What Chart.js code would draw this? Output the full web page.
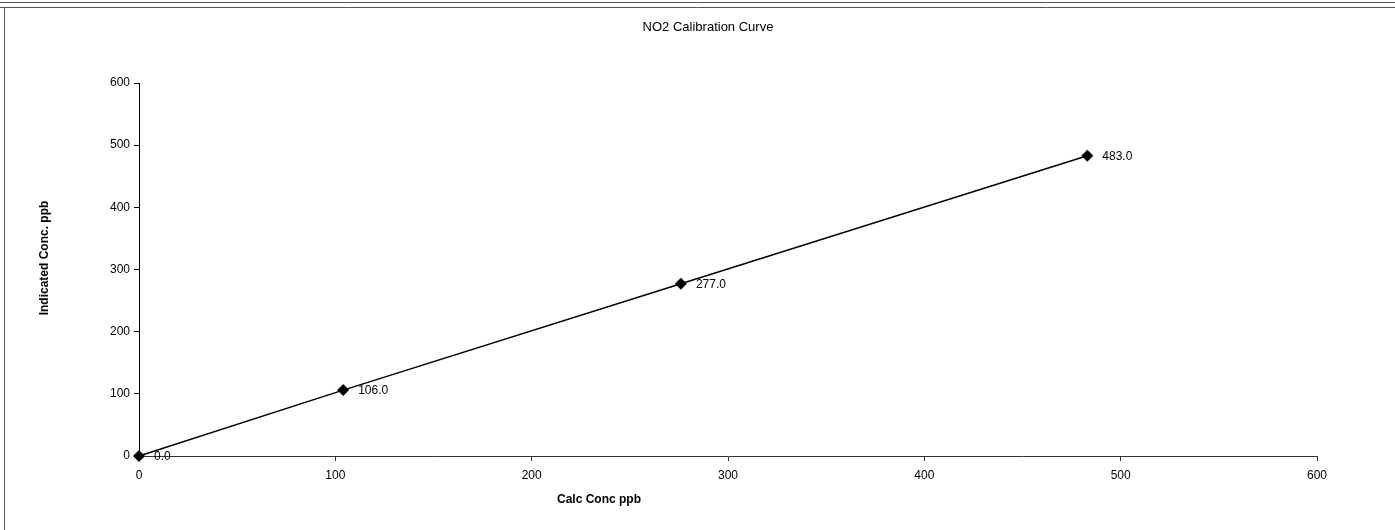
<!DOCTYPE html>
<html>
<head>
<meta charset="utf-8">
<script src="https://cdn.jsdelivr.net/npm/chart.js@4.4.1/dist/chart.umd.min.js"></script>
<style>
  html, body { margin: 0; padding: 0; background: #fff; }
  #wrap { width: 1395px; height: 530px; }
</style>
</head>
<body>
<div id="wrap"><canvas id="c" width="1395" height="530"></canvas></div>
<script>
// Calibration points: calculated vs indicated concentration (ppb)
const calcConc = [0, 104, 276, 483];
const indicatedConc = [0.0, 106.0, 277.0, 483.0];
const axisTicks = [0, 100, 200, 300, 400, 500, 600];

const chartTitle = 'NO2 Calibration Curve';
const xTitle = 'Calc Conc ppb';
const yTitle = 'Indicated Conc. ppb';

const points = calcConc.map((x, i) => ({ x: x, y: indicatedConc[i] }));
const FONT = '"Liberation Sans", Arial, sans-serif';

// Outer frame: doubled rule along the top and a rule down the left side
const framePlugin = {
  id: 'frame',
  beforeDraw(chart) {
    const ctx = chart.ctx;
    ctx.save();
    ctx.fillStyle = '#fff';
    ctx.fillRect(0, 0, chart.width, chart.height);
    ctx.strokeStyle = '#555';
    ctx.lineWidth = 1;
    ctx.beginPath();
    ctx.moveTo(0, 2.5); ctx.lineTo(chart.width, 2.5);
    ctx.moveTo(0, 7.5); ctx.lineTo(chart.width, 7.5);
    ctx.moveTo(4.5, 7.5); ctx.lineTo(4.5, chart.height);
    ctx.stroke();
    ctx.restore();
  }
};

// Chart title, axis titles and value labels beside each marker
const textPlugin = {
  id: 'texts',
  afterDatasetsDraw(chart) {
    const ctx = chart.ctx;
    const meta = chart.getDatasetMeta(0);
    ctx.save();
    ctx.fillStyle = '#000';
    ctx.textBaseline = 'middle';

    ctx.font = '12px ' + FONT;
    ctx.textAlign = 'left';
    meta.data.forEach((el, i) => {
      const v = chart.data.datasets[0].data[i].y;
      ctx.fillText(v.toFixed(1), el.x + 15, el.y + 0.5);
    });

    ctx.font = '13px ' + FONT;
    ctx.textAlign = 'center';
    ctx.fillText(chartTitle, 708, 27);

    ctx.font = 'bold 12px ' + FONT;
    ctx.fillText(xTitle, 599, 500);

    ctx.translate(45, 258);
    ctx.rotate(-Math.PI / 2);
    ctx.fillText(yTitle, 0, 0);
    ctx.restore();
  }
};

new Chart(document.getElementById('c'), {
  type: 'scatter',
  data: {
    datasets: [{
      data: points,
      showLine: true,
      clip: false,
      borderColor: '#000',
      borderWidth: 1.5,
      backgroundColor: '#000',
      pointStyle: 'rectRot',
      pointRadius: 6,
      pointHoverRadius: 6,
      pointBorderWidth: 0,
      tension: 0
    }]
  },
  options: {
    responsive: false,
    animation: false,
    events: [],
    layout: { padding: { left: 0, right: 78, top: 83, bottom: 0 } },
    plugins: {
      legend: { display: false },
      tooltip: { enabled: false },
      title: { display: false }
    },
    scales: {
      x: {
        type: 'linear',
        min: 0,
        max: 600,
        afterFit(scale) { scale.height = 74; },
        afterBuildTicks(scale) { scale.ticks = axisTicks.map(v => ({ value: v })); },
        grid: { drawOnChartArea: false, drawTicks: true, tickLength: 5, color: '#333' },
        border: { display: true, color: '#333', width: 1 },
        ticks: { color: '#000', font: { family: FONT, size: 12 }, padding: 7, maxRotation: 0 }
      },
      y: {
        type: 'linear',
        min: 0,
        max: 600,
        afterFit(scale) { scale.width = 139; },
        afterBuildTicks(scale) { scale.ticks = axisTicks.map(v => ({ value: v })); },
        grid: { drawOnChartArea: false, drawTicks: true, tickLength: 5, color: '#000' },
        border: { display: true, color: '#000', width: 1 },
        ticks: { color: '#000', font: { family: FONT, size: 12 }, padding: 4 }
      }
    }
  },
  plugins: [framePlugin, textPlugin]
});
</script>
</body>
</html>
